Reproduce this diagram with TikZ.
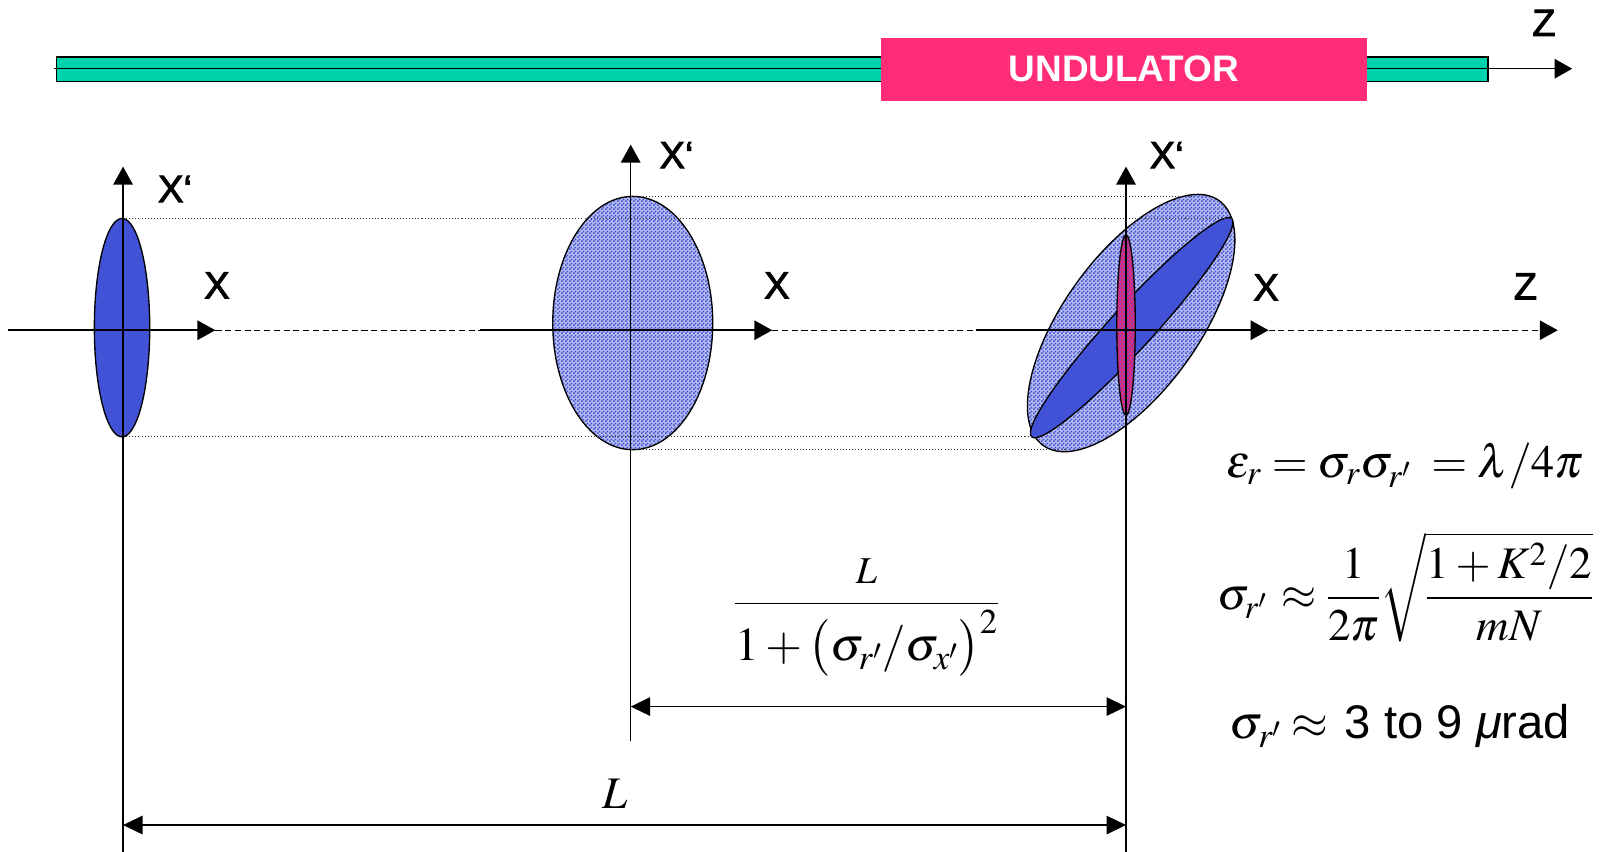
\documentclass[tikz,border=0pt]{standalone}
\usepackage{mathptmx}
\usepackage[no-math]{fontspec}
\setmainfont{Liberation Serif}
\newfontfamily\arialf{Liberation Sans}
\newfontfamily\lblfont[FakeBold=2.5]{Liberation Sans}
\usetikzlibrary{patterns,arrows.meta}

\pgfdeclarepatternformonly{checker}{\pgfqpoint{0pt}{0pt}}{\pgfqpoint{4pt}{4pt}}{\pgfqpoint{4pt}{4pt}}{%
  \pgfpathrectangle{\pgfqpoint{0pt}{0pt}}{\pgfqpoint{2pt}{2pt}}%
  \pgfpathrectangle{\pgfqpoint{2pt}{2pt}}{\pgfqpoint{2pt}{2pt}}%
  \pgfusepath{fill}}

\definecolor{beamblue}{RGB}{66,82,214}
\definecolor{tealc}{RGB}{0,210,172}
\definecolor{undpink}{RGB}{255,45,120}
\definecolor{redell}{RGB}{235,40,118}

\tikzset{
  axisline/.style={line width=1.6pt, -{Triangle[length=17.5pt,width=19pt]}},
  dashaxis/.style={line width=1.2pt, dash pattern=on 6pt off 3.5pt},
  dashaxisarrow/.style={dashaxis, -{Triangle[length=17.5pt,width=19pt]}},
  dimline/.style={line width=1.5pt, {Triangle[length=19pt,width=18pt]}-{Triangle[length=19pt,width=18pt]}},
  dotline/.style={line width=0.9pt, black!80, dash pattern=on 1pt off 2pt},
  thinline/.style={line width=1.3pt},
  ellout/.style={line width=1.3pt},
  checkfill/.style={fill=beamblue!35!white},
  checkpat/.style={pattern=checker, pattern color=beamblue},
  lbl/.style={font=\lblfont\fontsize{37}{40}\selectfont, inner sep=0pt, anchor=base west},
  mathlbl/.style={inner sep=0pt},
}

\begin{document}
\begin{tikzpicture}[x=1pt,y=-1pt]
\useasboundingbox (0,0) rectangle (1568,830);

% ---------- top beam line ----------
\fill[tealc] (55,55.5) rectangle (1451,79.5);
\draw[line width=1.4pt] (55,55.5) rectangle (1451,79.5);
\coordinate (zs) at (53,67);
\coordinate (ze) at (1533,67);
\draw[line width=1.3pt, -{Triangle[length=17pt,width=19pt]}] (zs) -- (ze);
\node[fill=undpink, minimum width=474pt, minimum height=61pt, inner sep=0pt,
      text=white, font=\arialf\bfseries\fontsize{36}{36}\selectfont] (und) at (1096,67.5) {UNDULATOR};
\node[lbl] (ztop) at (1494,35) {Z};

% ---------- ellipses ----------
% left (small, solid)
\fill[beamblue] (119,319.5) ellipse [x radius=27, y radius=106.5];
\draw[ellout] (119,319.5) ellipse [x radius=27, y radius=106.5];

% middle (checkered)
\fill[checkfill] (617,315) ellipse [x radius=78, y radius=123.5];
\fill[checkpat] (617,315) ellipse [x radius=78, y radius=123.5];
\draw[ellout] (617,315) ellipse [x radius=78, y radius=123.5];

% right outer (tilted, checkered)
\begin{scope}[shift={(1103,315)}, rotate=54.3]
  \fill[checkfill] (0,0) ellipse [x radius=147, y radius=66];
  \fill[checkpat] (0,0) ellipse [x radius=147, y radius=66];
  \draw[ellout] (0,0) ellipse [x radius=147, y radius=66];
\end{scope}
% right inner (tilted, solid)
\begin{scope}[shift={(1103.5,319.5)}, rotate=47.5]
  \fill[beamblue] (0,0) ellipse [x radius=144.4, y radius=21];
  \draw[ellout] (0,0) ellipse [x radius=144.4, y radius=21];
\end{scope}
% pink narrow ellipse
\fill[redell] (1098,317) ellipse [x radius=9, y radius=88];
\fill[pattern=checker, pattern color=beamblue!70!redell] (1098,317) ellipse [x radius=9, y radius=88];
\draw[ellout] (1098,317) ellipse [x radius=9, y radius=88];

% ---------- dotted guide lines ----------
\coordinate (g1a) at (120,213.5);  \coordinate (g1b) at (1201,213.5);
\coordinate (g2a) at (615,191.5);  \coordinate (g2b) at (1162,191.5);
\coordinate (g3a) at (120,426);    \coordinate (g3b) at (1006,426);
\coordinate (g4a) at (615,438.5);  \coordinate (g4b) at (1040,438.5);
\draw[dotline] (g1a) -- (g1b);
\draw[dotline] (g2a) -- (g2b);
\draw[dotline] (g3a) -- (g3b);
\draw[dotline] (g4a) -- (g4b);

% ---------- horizontal axes ----------
\coordinate (l0) at (8,322);    \coordinate (la) at (210,322);
\coordinate (m0) at (468,322);  \coordinate (ma) at (753,322);
\coordinate (r0) at (952,322);  \coordinate (ra) at (1237,322);
\coordinate (zend) at (1519,322);
\draw[dashaxis] (la) -- (m0);
\draw[dashaxis] (ma) -- (r0);
\draw[dashaxisarrow] (ra) -- (zend);
\draw[axisline] (l0) -- (la);
\draw[axisline] (m0) -- (ma);
\draw[axisline] (r0) -- (ra);

% ---------- vertical axes ----------
\coordinate (lb) at (120,835);    \coordinate (lt) at (120,162.5);
\coordinate (mb) at (615,722.5);  \coordinate (mt) at (615,141);
\coordinate (rb) at (1098,835);   \coordinate (rt) at (1098,162.5);
\draw[thinline, -{Triangle[length=17.5pt,width=19pt]}] (lb) -- (lt);
\draw[thinline, -{Triangle[length=17.5pt,width=19pt]}] (mb) -- (mt);
\draw[thinline, -{Triangle[length=17.5pt,width=19pt]}] (rb) -- (rt);

% ---------- axis labels ----------
\node[lbl] (xpl) at (154,197) {X‘};
\node[lbl] (xl)  at (199,291) {X};
\node[lbl] (xpm) at (643,164) {X‘};
\node[lbl] (xm)  at (745,291) {X};
\node[lbl] (xpr) at (1121,164) {X‘};
\node[lbl] (xr)  at (1222,293) {X};
\node[lbl] (zr)  at (1476,292) {Z};

% ---------- dimension arrows ----------
\coordinate (d1a) at (615,689);   \coordinate (d1b) at (1098,689);
\coordinate (d2a) at (120,804.5); \coordinate (d2b) at (1098,804.5);
\draw[dimline] (d1a) -- (d1b);
\draw[dimline] (d2a) -- (d2b);

\node[mathlbl, anchor=base] (fracl) at (845,600)
  {\fontsize{46}{50}\selectfont $\displaystyle\frac{\mbox{\fontsize{37}{40}\selectfont$L$}}{1+\bigl(\sigma_{r'}/\sigma_{x'}\bigr)^{2}}$};
\node[mathlbl, anchor=base] (bigl) at (600,788) {\fontsize{44}{48}\selectfont $L$};

% ---------- formulas on the right ----------
\node[mathlbl, anchor=base west] (f1) at (1196,466)
  {\fontsize{45}{50}\selectfont $\varepsilon_r = \sigma_r\sigma_{r'}\; = \lambda/4\pi$};
\node[mathlbl, anchor=base west] (f2) at (1187,594)
  {\fontsize{44}{48}\selectfont $\displaystyle\sigma_{r'}\,\approx\frac{1}{2\pi}\sqrt{\frac{1 + K^2/2}{mN}}$};
\node[mathlbl, anchor=base west] (f3) at (1199,720)
  {\fontsize{46}{50}\selectfont $\sigma_{r'}\approx$\hspace{16pt}{\arialf\fontsize{46}{50}\selectfont 3 to 9 {\itshape μ}rad}};

\end{tikzpicture}
\end{document}
